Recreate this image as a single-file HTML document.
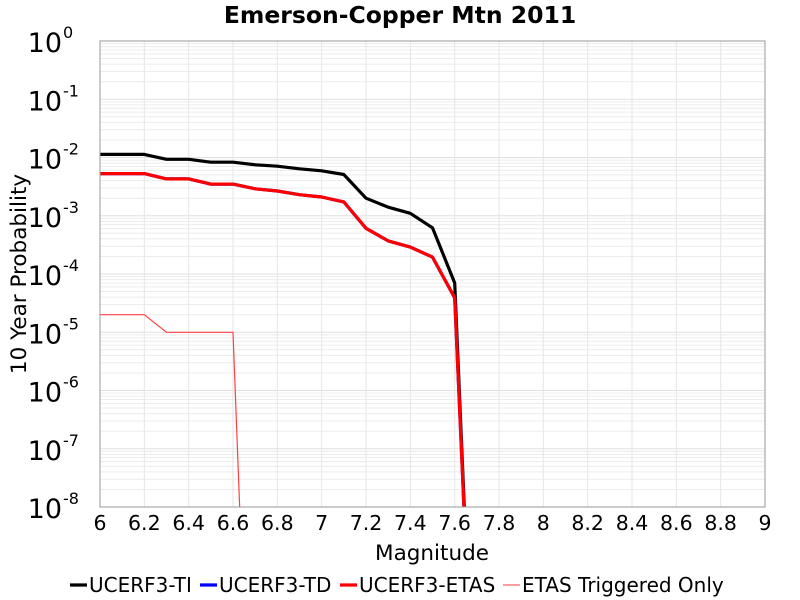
<!DOCTYPE html>
<html><head><meta charset="utf-8"><style>
html,body{margin:0;background:#fff;overflow:hidden;width:800px;height:600px;}
svg{display:block;font-family:"DejaVu Sans","Liberation Sans",sans-serif;}
</style></head><body>
<svg id="chart" width="800" height="600">
<text x="400" y="23" text-anchor="middle" font-size="23.5" font-weight="bold">Emerson-Copper Mtn 2011</text>
<g id="grid"></g>
<g id="series"></g>
<rect x="100" y="41" width="665" height="466" fill="none" stroke="#999" stroke-width="1"/>
<g id="xticks"></g>
<g id="yticks"></g>
<text x="432" y="560" text-anchor="middle" font-size="21.5">Magnitude</text>
<text transform="translate(26,274) rotate(-90)" text-anchor="middle" font-size="21.5">10 Year Probability</text>
<g id="legend"></g>
</svg>
<script>
const mags=[6.0,6.1,6.2,6.3,6.4,6.5,6.6,6.7,6.8,6.9,7.0,7.1,7.2,7.3,7.4,7.5,7.6,7.7];
const ti=[1.13e-2,1.13e-2,1.13e-2,9.3e-3,9.3e-3,8.3e-3,8.3e-3,7.5e-3,7.1e-3,6.4e-3,5.9e-3,5.1e-3,2.0e-3,1.4e-3,1.1e-3,6.2e-4,7e-5,1e-13];
const td=[5.3e-3,5.3e-3,5.3e-3,4.3e-3,4.3e-3,3.5e-3,3.5e-3,2.9e-3,2.66e-3,2.3e-3,2.1e-3,1.73e-3,6.1e-4,3.7e-4,2.9e-4,1.95e-4,3.9e-5,1e-13];
const etas=[5.3e-3,5.3e-3,5.3e-3,4.3e-3,4.3e-3,3.5e-3,3.5e-3,2.9e-3,2.66e-3,2.3e-3,2.1e-3,1.73e-3,6.1e-4,3.7e-4,2.9e-4,1.95e-4,3.9e-5,1e-13];
const trigMags=[6.0,6.1,6.2,6.3,6.4,6.5,6.6,6.7];
const trig=[2.0e-5,2.0e-5,2.0e-5,1e-5,1e-5,1e-5,1e-5,1e-15];
const xTicks=[6,6.2,6.4,6.6,6.8,7,7.2,7.4,7.6,7.8,8,8.2,8.4,8.6,8.8,9];
const yExps=[0,-1,-2,-3,-4,-5,-6,-7,-8];
const legendNames=["UCERF3-TI","UCERF3-TD","UCERF3-ETAS","ETAS Triggered Only"];

const L=100,R=765,T=41,B=507;
const NS="http://www.w3.org/2000/svg";
const xs=v=>L+(v-6)/3*(R-L);
const ys=v=>T+(-Math.log10(v))/8*(B-T);
function mk(tag,attrs,parent){const e=document.createElementNS(NS,tag);for(const k in attrs)e.setAttribute(k,attrs[k]);parent.appendChild(e);return e;}
const grid=document.getElementById('grid');
for(let d=0;d<8;d++){for(let m=2;m<=9;m++){const y=ys(m*Math.pow(10,-d-1));
const l=mk('line',{x1:L,x2:R,y1:y,y2:y,stroke:'#ececec','stroke-width':1},grid);

}}
yExps.forEach(e=>{const y=ys(Math.pow(10,e));
const l=mk('line',{x1:L,x2:R,y1:y,y2:y,stroke:'#e0e0e0','stroke-width':1},grid);

});
xTicks.forEach(t=>{const x=xs(t);
const l=mk('line',{x1:x,x2:x,y1:T,y2:B,stroke:'#e6e6e6','stroke-width':1},grid);

});
const xg=document.getElementById('xticks');
xTicks.forEach(t=>{const tx=mk('text',{x:xs(t),y:530,'text-anchor':'middle','font-size':20.5},xg);tx.textContent=String(t);

});
const yg=document.getElementById('yticks');
yExps.forEach(e=>{const y=ys(Math.pow(10,e));
const tx=mk('text',{x:62,y:y+11,'text-anchor':'end','font-size':27},yg);tx.textContent='10';


const sp=mk('text',{x:63,y:y-3,'font-size':16},yg);sp.textContent=String(e);

});
const sg=document.getElementById('series');
const clip=mk('clipPath',{id:'pc'},sg);mk('rect',{x:L,y:T,width:R-L,height:B-T},clip);
function line(mx,vals,color,w,name){const d=mx.map((m,i)=>(i?'L':'M')+xs(m).toFixed(1)+','+ys(vals[i]).toFixed(1)).join(' ');
const p=mk('path',{d:d,fill:'none',stroke:color,'stroke-width':w,'clip-path':'url(#pc)','stroke-linejoin':'round'},sg);

}
line(mags,ti,'#000',3.2,'series-ucerf3-ti');
line(mags,td,'#0000ff',3.2,'series-ucerf3-td');
line(mags,etas,'#ff0000',3.2,'series-ucerf3-etas');
line(trigMags,trig,'#ff4040',1.2,'series-etas-triggered');
const lg=document.getElementById('legend');
const lx=[70,200,340,503],colors=['#000','#0000ff','#ff0000','#ff6060'],ws=[3.2,3.2,3.2,1.2];
legendNames.forEach((n,i)=>{const l=mk('line',{x1:lx[i],x2:lx[i]+17,y1:585,y2:585,stroke:colors[i],'stroke-width':ws[i]},lg);


const t=mk('text',{x:lx[i]+19,y:592,'font-size':20},lg);t.textContent=n;

});
</script>
</body></html>
